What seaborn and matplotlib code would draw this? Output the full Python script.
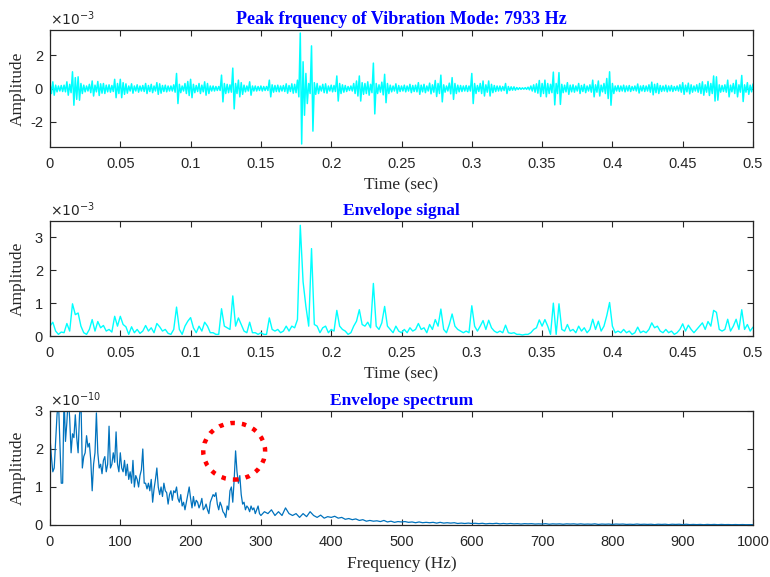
import numpy as np
import pandas as pd
import matplotlib
matplotlib.use("Agg")
import matplotlib.pyplot as plt
from matplotlib.patches import Ellipse
import seaborn as sns

# ---------------- data ----------------
# Envelope signal, units of 1e-3, sampled every 0.002 s from 0 to 0.5 s
env_step = 0.002
envelope = [
    0.30, 0.42, 0.15, 0.05, 0.12, 0.10, 0.38, 0.15, 0.98, 0.65,
    0.70, 0.30, 0.10, 0.05, 0.20, 0.50, 0.15, 0.44, 0.25, 0.32,
    0.15, 0.20, 0.12, 0.60, 0.30, 0.60, 0.35, 0.28, 0.05, 0.28,
    0.10, 0.20, 0.08, 0.15, 0.32, 0.15, 0.25, 0.10, 0.38, 0.28,
    0.15, 0.20, 0.08, 0.05, 0.20, 0.88, 0.20, 0.05, 0.30, 0.45,
    0.56, 0.25, 0.10, 0.30, 0.15, 0.42, 0.30, 0.10, 0.10, 0.05,
    0.05, 0.83, 0.30, 0.25, 0.20, 1.22, 0.30, 0.55, 0.35, 0.15,
    0.10, 0.42, 0.10, 0.10, 0.05, 0.10, 0.05, 0.05, 0.55, 0.20,
    0.15, 0.20, 0.10, 0.15, 0.30, 0.15, 0.30, 0.25, 0.50, 3.37,
    1.65, 0.90, 0.30, 2.66, 0.35, 0.30, 0.10, 0.25, 0.30, 0.10,
    0.20, 0.15, 0.78, 0.30, 0.20, 0.15, 0.05, 0.10, 0.30, 0.45,
    0.80, 0.35, 0.30, 0.42, 0.25, 1.60, 0.30, 0.20, 0.40, 0.90,
    0.30, 0.20, 0.10, 0.30, 0.15, 0.10, 0.20, 0.10, 0.25, 0.15,
    0.20, 0.38, 0.20, 0.25, 0.10, 0.35, 0.20, 0.50, 0.30, 0.82,
    0.20, 0.10, 0.35, 0.67, 0.30, 0.20, 0.15, 0.10, 0.15, 0.10,
    0.92, 0.30, 0.15, 0.30, 0.47, 0.20, 0.48, 0.25, 0.15, 0.10,
    0.15, 0.10, 0.33, 0.10, 0.08, 0.10, 0.05, 0.05, 0.03, 0.05,
    0.05, 0.10, 0.20, 0.25, 0.49, 0.30, 0.50, 0.30, 0.05, 1.00,
    0.05, 0.98, 0.20, 0.15, 0.35, 0.15, 0.20, 0.10, 0.30, 0.15,
    0.25, 0.10, 0.20, 0.51, 0.20, 0.45, 0.15, 0.30, 0.62, 1.02,
    0.30, 0.10, 0.15, 0.10, 0.20, 0.10, 0.15, 0.05, 0.10, 0.27,
    0.10, 0.15, 0.10, 0.20, 0.40, 0.25, 0.30, 0.15, 0.10, 0.20,
    0.10, 0.15, 0.05, 0.10, 0.20, 0.37, 0.15, 0.33, 0.20, 0.10,
    0.20, 0.30, 0.40, 0.20, 0.44, 0.30, 0.78, 0.72, 0.20, 0.15,
    0.20, 0.51, 0.15, 0.30, 0.51, 0.20, 0.80, 0.20, 0.35, 0.15,
    0.27,
]

# Raw vibration band: half-width (units of 1e-3) of the cyan band, same 0.002 s grid
raw_band = [
    0.30, 0.40, 0.20, 0.15, 0.18, 0.20, 0.40, 0.25, 1.00, 0.65,
    0.70, 0.30, 0.20, 0.15, 0.25, 0.45, 0.20, 0.42, 0.28, 0.30,
    0.20, 0.22, 0.18, 0.55, 0.30, 0.55, 0.35, 0.28, 0.15, 0.28,
    0.15, 0.22, 0.15, 0.18, 0.30, 0.18, 0.25, 0.15, 0.35, 0.28,
    0.18, 0.20, 0.15, 0.15, 0.22, 0.90, 0.25, 0.15, 0.30, 0.42,
    0.55, 0.25, 0.18, 0.30, 0.20, 0.40, 0.30, 0.15, 0.15, 0.12,
    0.12, 0.80, 0.30, 0.25, 0.22, 1.22, 0.30, 0.50, 0.35, 0.20,
    0.15, 0.40, 0.15, 0.15, 0.12, 0.15, 0.12, 0.12, 0.50, 0.22,
    0.18, 0.20, 0.15, 0.18, 0.28, 0.18, 0.28, 0.25, 0.50, 3.32,
    1.60, 0.90, 0.30, 2.55, 0.35, 0.30, 0.15, 0.25, 0.28, 0.15,
    0.20, 0.18, 0.75, 0.30, 0.22, 0.18, 0.12, 0.15, 0.30, 0.45,
    0.75, 0.35, 0.30, 0.40, 0.25, 1.52, 0.30, 0.22, 0.38, 0.85,
    0.30, 0.20, 0.15, 0.28, 0.18, 0.15, 0.20, 0.15, 0.25, 0.18,
    0.20, 0.35, 0.20, 0.25, 0.15, 0.32, 0.22, 0.48, 0.30, 0.80,
    0.22, 0.15, 0.32, 0.65, 0.30, 0.20, 0.18, 0.15, 0.18, 0.15,
    0.90, 0.30, 0.18, 0.30, 0.45, 0.22, 0.45, 0.25, 0.18, 0.15,
    0.15, 0.12, 0.30, 0.12, 0.10, 0.10, 0.06, 0.05, 0.04, 0.05,
    0.08, 0.15, 0.22, 0.28, 0.48, 0.30, 0.50, 0.30, 0.25, 0.98,
    0.30, 0.95, 0.25, 0.20, 0.35, 0.20, 0.22, 0.15, 0.30, 0.18,
    0.25, 0.15, 0.22, 0.50, 0.22, 0.45, 0.20, 0.30, 0.60, 1.00,
    0.30, 0.15, 0.18, 0.15, 0.20, 0.15, 0.18, 0.12, 0.15, 0.27,
    0.15, 0.18, 0.15, 0.22, 0.38, 0.25, 0.30, 0.18, 0.15, 0.20,
    0.15, 0.18, 0.12, 0.15, 0.22, 0.35, 0.20, 0.32, 0.22, 0.15,
    0.22, 0.30, 0.40, 0.22, 0.42, 0.30, 0.75, 0.70, 0.22, 0.18,
    0.22, 0.50, 0.20, 0.30, 0.50, 0.22, 0.78, 0.22, 0.35, 0.20,
    0.27,
]

# Envelope spectrum, units of 1e-10: 0-298 Hz every 2 Hz, 300-1000 Hz every 5 Hz
spec_low = [
    2.3, 1.8, 1.4, 1.5, 2.2, 2.9, 3.3, 2.2, 1.1, 1.1,
    3.4, 2.2, 2.7, 3.4, 2.8, 1.9, 2.4, 2.3, 2.9, 2.3,
    1.9, 2.9, 3.3, 1.5, 1.8, 1.9, 2.35, 2.05, 2.15, 1.7,
    0.9, 1.6, 1.9, 2.95, 1.9, 1.5, 1.6, 1.35, 1.7, 1.8,
    1.4, 1.6, 2.6, 1.5, 1.6, 1.9, 1.65, 2.45, 1.6, 1.4,
    1.9, 1.5, 1.4, 1.7, 1.3, 1.6, 1.2, 1.4, 1.1, 1.7,
    1.0, 1.3, 1.2, 1.0, 1.3, 1.45, 2.0, 1.1, 1.1, 0.95,
    1.1, 0.9, 1.2, 0.6, 0.95, 1.2, 1.5, 1.0, 0.8, 1.0,
    0.75, 1.1, 0.9, 0.85, 0.55, 0.8, 0.9, 0.65, 0.9, 0.85,
    1.0, 0.7, 0.6, 0.8, 0.5, 0.6, 0.4, 0.6, 0.8, 1.0,
    0.7, 0.45, 0.75, 0.5, 0.65, 0.6, 0.45, 0.55, 0.7, 0.4,
    0.45, 0.55, 0.4, 0.3, 0.6, 0.7, 0.8, 0.75, 0.85, 0.55,
    0.4, 0.6, 0.5, 0.35, 0.3, 0.2, 0.5, 0.4, 0.9, 1.0,
    0.6, 1.2, 1.95, 1.4, 1.1, 1.3, 0.8, 0.55, 0.6, 0.4,
    0.5, 0.45, 0.35, 0.5, 0.4, 0.45, 0.3, 0.4, 0.5, 0.3,
]
spec_high = [
    0.25, 0.35, 0.3, 0.4, 0.25, 0.35, 0.25, 0.45, 0.3, 0.25,
    0.3, 0.2, 0.3, 0.22, 0.35, 0.25, 0.2, 0.26, 0.18, 0.22,
    0.2, 0.23, 0.18, 0.2, 0.15, 0.17, 0.14, 0.16, 0.12, 0.14,
    0.1, 0.12, 0.1, 0.11, 0.09, 0.12, 0.08, 0.1, 0.07, 0.09,
    0.08, 0.09, 0.07, 0.08, 0.06, 0.08, 0.06, 0.07, 0.06, 0.07,
    0.05, 0.07, 0.05, 0.06, 0.05, 0.06, 0.04, 0.05, 0.04, 0.05,
    0.04, 0.045, 0.035, 0.045, 0.03, 0.04, 0.035, 0.045, 0.03, 0.04,
    0.03, 0.04, 0.03, 0.035, 0.025, 0.035, 0.03, 0.035, 0.025, 0.03,
    0.025, 0.035, 0.02, 0.03, 0.025, 0.03, 0.02, 0.03, 0.025, 0.03,
    0.02, 0.03, 0.02, 0.025, 0.02, 0.03, 0.015, 0.025, 0.02, 0.025,
    0.015, 0.025, 0.02, 0.025, 0.015, 0.02, 0.015, 0.025, 0.015, 0.02,
    0.015, 0.02, 0.01, 0.02, 0.015, 0.02, 0.01, 0.02, 0.015, 0.02,
    0.01, 0.02, 0.01, 0.015, 0.01, 0.015, 0.008, 0.015, 0.01, 0.015,
    0.008, 0.015, 0.01, 0.012, 0.008, 0.012, 0.008, 0.012, 0.008, 0.01,
    0.01,
]

titles = ["Peak frquency of Vibration Mode: 7933 Hz", "Envelope signal", "Envelope spectrum"]
time_ticks = [0, 0.05, 0.1, 0.15, 0.2, 0.25, 0.3, 0.35, 0.4, 0.45, 0.5]
time_tick_labels = ["0", "0.05", "0.1", "0.15", "0.2", "0.25", "0.3", "0.35", "0.4", "0.45", "0.5"]
freq_ticks = [0, 100, 200, 300, 400, 500, 600, 700, 800, 900, 1000]

# ---------------- build tables ----------------
env_t = np.arange(len(envelope)) * env_step
env_df = pd.DataFrame({"t": env_t, "a": envelope})

# raw vibration: the line swings between the upper and lower band edges
raw_t, raw_a = [], []
for t, v in zip(np.arange(len(raw_band)) * env_step, raw_band):
    raw_t += [t, t + env_step / 2]
    raw_a += [v, -v]
raw_df = pd.DataFrame({"t": raw_t, "a": raw_a})

spec_f = np.concatenate([np.arange(0, 300, 2), np.arange(300, 1001, 5)])
spec_v = np.array(spec_low + spec_high)
n = min(len(spec_f), len(spec_v))
spec_df = pd.DataFrame({"f": spec_f[:n], "a": spec_v[:n]})

# ---------------- style ----------------
sns.set_style("ticks")
plt.rcParams.update({
    "font.family": ["Liberation Sans", "DejaVu Sans"],
    "axes.unicode_minus": False,
    "xtick.direction": "in", "ytick.direction": "in",
    "xtick.top": True, "ytick.right": True,
    "xtick.major.size": 4, "ytick.major.size": 4,
    "xtick.major.width": 0.8, "ytick.major.width": 0.8,
    "axes.edgecolor": "#262626", "axes.linewidth": 0.9,
    "xtick.color": "#262626", "ytick.color": "#262626",
    "xtick.labelsize": 10.5, "ytick.labelsize": 10.5,
})
serif = ["Liberation Serif", "DejaVu Serif"]

fig = plt.figure(figsize=(7.7, 5.77), dpi=100)
W, H = 770, 577
def add_ax(top, bottom):
    return fig.add_axes([50 / W, 1 - bottom / H, 703 / W, (bottom - top) / H])

ax1 = add_ax(30, 147)
ax2 = add_ax(221, 336)
ax3 = add_ax(411, 525)

sns.lineplot(data=raw_df, x="t", y="a", ax=ax1, color="#00FFFF", lw=1.1,
             sort=False, estimator=None)
sns.lineplot(data=env_df, x="t", y="a", ax=ax2, color="#00FFFF", lw=1.0,
             sort=False, estimator=None)
sns.lineplot(data=spec_df, x="f", y="a", ax=ax3, color="#0072BD", lw=0.9,
             sort=False, estimator=None)

for ax in (ax1, ax2):
    ax.set_xlim(0, 0.5)
    ax.set_xticks(time_ticks)
    ax.set_xticklabels(time_tick_labels)
    ax.set_xlabel("Time (sec)", fontsize=12.5, family=serif, labelpad=5)
ax1.set_ylim(-3.5, 3.5)
ax1.set_yticks([-2, 0, 2])
ax2.set_ylim(0, 3.5)
ax2.set_yticks([0, 1, 2, 3])
ax3.set_xlim(0, 1000)
ax3.set_xticks(freq_ticks)
ax3.set_ylim(0, 3)
ax3.set_yticks([0, 1, 2, 3])
ax3.set_xlabel("Frequency (Hz)", fontsize=12.5, family=serif, labelpad=5)

title_sizes = [13.0, 12.5, 12.5]
for ax, title, exp, ts in zip((ax1, ax2, ax3), titles, ["-3", "-3", "-10"], title_sizes):
    for s in ax.spines.values():
        s.set_visible(True)
    ax.set_ylabel("Amplitude", fontsize=12.5, family=serif)
    ax.yaxis.set_label_coords(-0.034, 0.5)
    ax.set_title(title, fontsize=ts, family=serif, fontweight="bold",
                 color="#0000FF", pad=4)
    ax.text(0.0, 1.015, r"$\times10^{" + exp + "}$", transform=ax.transAxes,
            ha="left", va="bottom", fontsize=10, color="#262626")
    ax.tick_params(axis="x", pad=7)
    ax.tick_params(axis="y", pad=5)

# red dotted circle around the fault peak
ax3.add_patch(Ellipse((262, 1.94), 88, 1.49, fill=False, edgecolor="#FF0000",
                      lw=3.2, linestyle=(0, (1, 1.6)), zorder=5))

fig.savefig("out.png", dpi=100)
